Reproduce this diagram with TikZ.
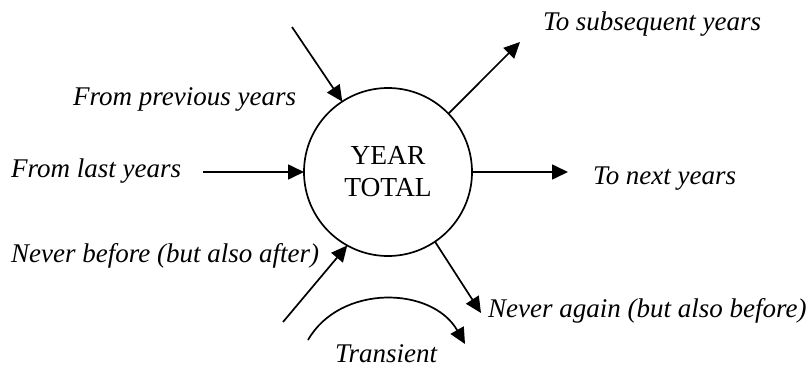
\documentclass[tikz,border=0pt]{standalone}
\usepackage{fontspec}
\setmainfont{Liberation Serif}
\usetikzlibrary{arrows.meta}
\begin{document}
\begin{tikzpicture}[x=1pt,y=-1pt,
  lbl/.style={font=\fontsize{27}{32}\selectfont\itshape, anchor=base west, inner sep=0pt},
  flow/.style={line width=1.7pt, -{Triangle[length=16pt,width=15pt]}}]
\useasboundingbox (0,0) rectangle (811,369);
\node[draw, circle, line width=1.7pt, minimum size=168pt, inner sep=0pt, outer sep=0pt,
  align=center, font=\fontsize{27.5}{32}\selectfont] (Y) at (388,172) {YEAR\\TOTAL};
% labels
\node[lbl] (sub) at (543,31) {To subsequent years};
\node[lbl] (prev) at (73,105) {From previous years};
\node[lbl] (last) at (11,177) {From last years};
\node[lbl] (next) at (593,184) {To next years};
\node[lbl] (nb) at (11,262) {Never before (but also after)};
\node[lbl] (na) at (488,317) {Never again (but also before)};
\node[lbl] (tr) at (335,362) {Transient};
% free ends
\coordinate (p0) at (292,27);
\coordinate (l0) at (203,172);
\coordinate (n0) at (283,322);
\coordinate (s1) at (520,42);
\coordinate (x1) at (568,172);
\coordinate (a1) at (481,313);
\coordinate (t0) at (308,340);
\coordinate (t1) at (465,344);
% connectors
\draw[flow] (p0) -- (Y.123.7);
\draw[flow] (l0) -- (Y.west);
\draw[flow] (n0) -- (Y.241.3);
\draw[flow] (Y.44) -- (s1);
\draw[flow] (Y.east) -- (x1);
\draw[flow] (Y.304) -- (a1);
\draw[flow] (t0) .. controls (340,284) and (432,286) .. (t1);
\end{tikzpicture}
\end{document}
